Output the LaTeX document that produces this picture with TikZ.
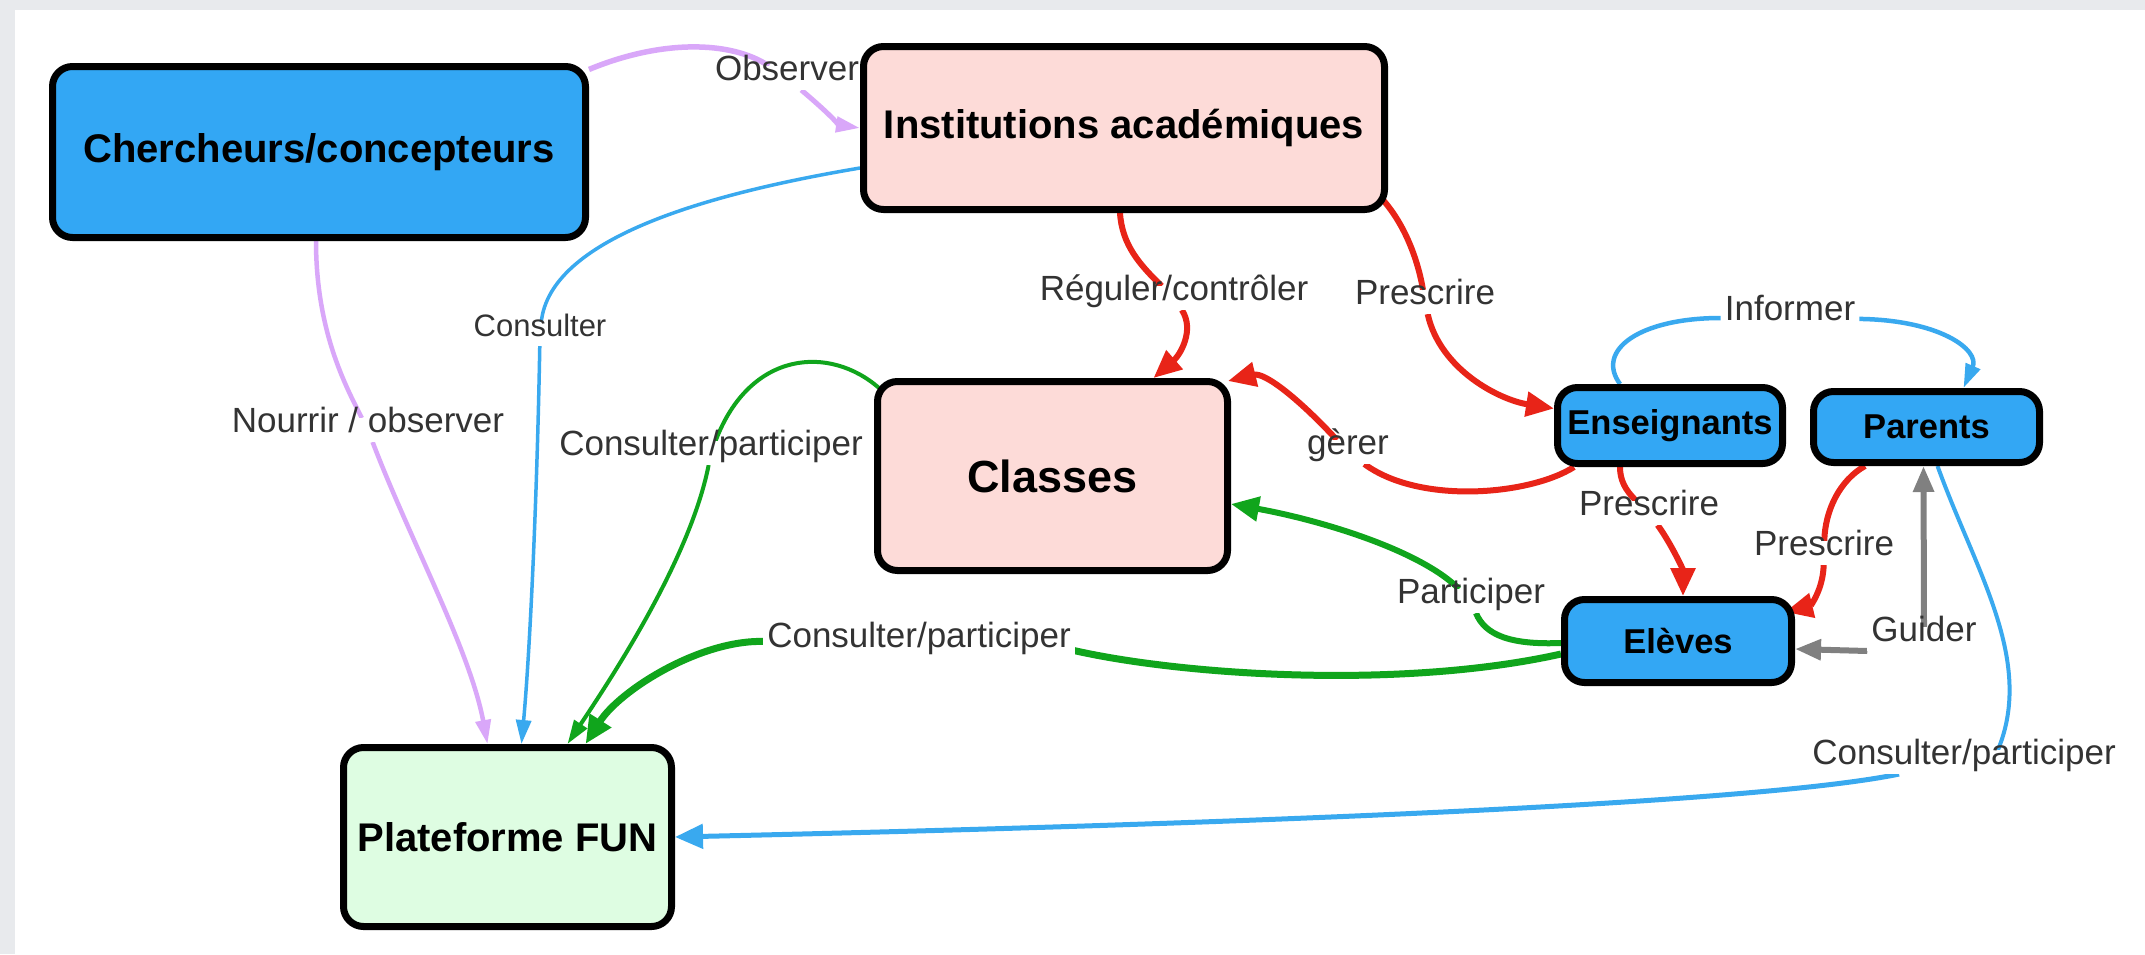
\documentclass[tikz,border=0pt]{standalone}
\usepackage{fontspec}
\setmainfont{Liberation Sans}
\usetikzlibrary{arrows.meta,calc}
\definecolor{nodeblue}{HTML}{33A7F4}
\definecolor{nodepink}{HTML}{FDDBD8}
\definecolor{nodegreen}{HTML}{DEFDE2}
\definecolor{eblue}{HTML}{39A9EF}
\definecolor{ered}{HTML}{E82418}
\definecolor{egreen}{HTML}{10A51C}
\definecolor{epurple}{HTML}{D9A7F9}
\definecolor{egray}{HTML}{808080}
\definecolor{pagegray}{HTML}{E8EAED}
\definecolor{lblgray}{HTML}{333333}
\pgfdeclarelayer{back}
\pgfdeclarelayer{edges}
\pgfsetlayers{back,edges,main}
\begin{document}
\begin{tikzpicture}[x=1pt,y=-1pt,
  box/.style={draw=black, line width=7pt, rounded corners=20pt, align=center, inner sep=0pt,
    font=\bfseries\fontsize{40}{46}\selectfont},
  sbox/.style={box, fill=nodeblue, font=\bfseries\fontsize{34.5}{40}\selectfont},
  lbl/.style={fill=white, inner xsep=4pt, inner ysep=7pt, text=lblgray, text height=0.75em, text depth=0.22em,
    font=\fontsize{35}{40}\selectfont},
  bigtip/.style={-{Triangle[length=28pt,width=24pt]}},
  smalltip/.style={-{Triangle[length=24pt,width=15pt]}},
  graytip/.style={-{Triangle[length=26pt,width=20pt]}},
  purp/.style={draw=epurple},
  blu/.style={draw=eblue},
  red/.style={draw=ered, line width=6pt},
  grn/.style={draw=egreen},
  gry/.style={draw=egray, line width=6pt}]
\useasboundingbox (0,0) rectangle (2145,954);
\begin{pgfonlayer}{back}
  \fill[pagegray] (0,0) rectangle (2145,954);
  \fill[white] (15,10) rectangle (2145,954);
\end{pgfonlayer}

% labels (first, so that the boxes lie over them)
\node[lbl] (obs) at (787,78) {Observer};
\node[lbl, font=\fontsize{31}{36}\selectfont] (cons) at (540,334) {Consulter};
\node[lbl] (nour) at (368,430) {Nourrir / observer};
\node[lbl] (cp1) at (711,453) {Consulter/participer};
\node[lbl] (reg) at (1174,298) {Réguler/contrôler};
\node[lbl] (pre1) at (1425,302) {Prescrire};
\node[lbl] (inf) at (1790,318) {Informer};
\node[lbl] (ger) at (1348,452) {gèrer};
\node[lbl] (pre2) at (1649,513) {Prescrire};
\node[lbl] (pre3) at (1824,553) {Prescrire};
\node[lbl] (part) at (1471,601) {Participer};
\node[lbl] (guid) at (1924,639) {Guider};
\node[lbl] (cp3) at (1964,762) {Consulter/participer};
\node[lbl] (cp2) at (919,645) {Consulter/participer};

% nodes
\node[box, fill=nodeblue, minimum width=533pt, minimum height=171pt] (cher) at (319,152) {Chercheurs/concepteurs};
\node[box, fill=nodepink, minimum width=521pt, minimum height=163pt] (inst) at (1124,128) {Institutions académiques};
\node[box, fill=nodepink, minimum width=350pt, minimum height=189pt, font=\bfseries\fontsize{45}{50}\selectfont] (classes) at (1052.5,476) {Classes};
\node[box, fill=nodegreen, minimum width=328pt, minimum height=179pt] (fun) at (507.5,837) {Plateforme FUN};
\node[sbox, minimum width=225pt, minimum height=76pt] (ens) at (1670,425.5) {Enseignants};
\node[sbox, minimum width=226pt, minimum height=71pt] (par) at (1926.5,427) {Parents};
\node[sbox, minimum width=227pt, minimum height=83pt] (elv) at (1678,641) {Elèves};

\begin{pgfonlayer}{edges}
% Observer
\draw[purp, line width=5.5pt] (cher.17) .. controls (660,40) and (730,40) .. (obs);
\draw[purp, line width=5pt, smalltip] (obs) .. controls (825,110) and (840,125) .. (inst.west);
% Nourrir / observer
\draw[purp, line width=4.5pt] ([xshift=-3pt]cher.south) .. controls (316,330) and (345,385) .. (nour);
\draw[purp, line width=4.5pt, smalltip] (nour) .. controls (410,540) and (470,650) .. ([xshift=-20pt]fun.north);
% Consulter
\draw[blu, line width=3.5pt] ([yshift=-40pt]inst.west) .. controls (700,195) and (550,240) .. (cons);
\draw[blu, line width=3.5pt, smalltip] (cons) .. controls (537,500) and (530,650) .. ([xshift=14pt]fun.north);
% Classes -> FUN
\draw[grn, line width=4pt] ([xshift=5pt,yshift=-10pt]classes.north west) .. controls (830,345) and (750,350) .. (cp1);
\draw[grn, line width=4pt, smalltip] (cp1) .. controls (690,560) and (610,680) .. ([xshift=60pt]fun.north);
% Eleves -> FUN
\draw[grn, line width=7pt] ([yshift=-13pt]elv.west) .. controls (1400,690) and (1180,675) .. ([xshift=-3pt,yshift=7pt]cp2.south east);
\draw[grn, line width=7pt, bigtip] (cp2) .. controls (700,640) and (620,690) .. ([xshift=78pt]fun.north);
% Participer
\draw[grn, line width=6pt] ([yshift=-2pt]elv.west) .. controls (1510,645) and (1485,635) .. (part);
\draw[grn, line width=6pt, bigtip] (part) .. controls (1420,550) and (1320,520) .. ([yshift=-28pt]classes.east);
% Reguler
\draw[red] ([xshift=-4pt]inst.south) .. controls (1122,245) and (1140,265) .. (reg);
\draw[red, bigtip] (reg) .. controls (1195,330) and (1180,355) .. ([xshift=101pt]classes.north);
% Prescrire inst -> ens
\draw[red] ([xshift=-5pt,yshift=13pt]inst.south east) .. controls (1405,225) and (1418,260) .. (pre1);
\draw[red, bigtip] (pre1) .. controls (1440,370) and (1500,400) .. ([yshift=17pt]ens.west);
% gerer
\draw[red] ([xshift=20pt]ens.south west) .. controls (1530,495) and (1420,505) .. (ger);
\draw[red, bigtip] (ger) .. controls (1300,400) and (1265,372) .. ([xshift=-3pt,yshift=-3pt]classes.north east);
% Prescrire ens -> eleves
\draw[red] ([xshift=-50pt]ens.south) .. controls (1620,480) and (1625,490) .. (pre2);
\draw[red, bigtip] (pre2) .. controls (1672,545) and (1683,570) .. ([xshift=5pt]elv.north);
% Prescrire parents -> eleves
\draw[red] ([xshift=55pt]par.south west) .. controls (1840,480) and (1825,510) .. (pre3);
\draw[red, bigtip] (pre3) .. controls (1823,590) and (1810,606) .. ([xshift=-10pt,yshift=-16pt]elv.north east);
% Informer
\draw[blu, line width=4.5pt] ([xshift=-50pt]ens.north) .. controls (1595,350) and (1640,318) .. (inf);
\draw[blu, line width=4.5pt, smalltip] (inf) .. controls (1940,320) and (1980,350) .. ([xshift=37pt]par.north);
% Guider
\draw[gry, graytip] ([yshift=-12pt]guid.west) -- ([yshift=-8pt]elv.east);
\draw[gry, graytip] (guid.north) -- ([xshift=-3pt]par.south);
% Parents -> FUN
\draw[blu, line width=4pt] ([xshift=11pt]par.south) .. controls (1975,570) and (2035,660) .. ([xshift=-122pt]cp3.north east);
\draw[blu, line width=5pt, bigtip] ([xshift=-65pt]cp3.south) .. controls (1750,805) and (1200,825) .. (fun.east);
\end{pgfonlayer}
\end{tikzpicture}
\end{document}
